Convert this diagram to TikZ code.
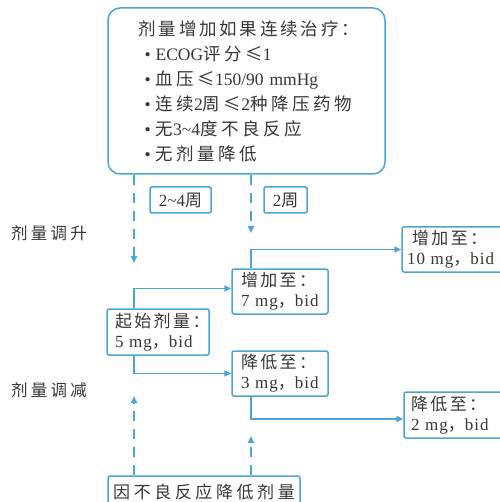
\documentclass[tikz,border=0pt]{standalone}
\usepackage{fontspec}
\setmainfont{Liberation Serif}
\newfontfamily\cjkfont{Noto Sans CJK SC}
\newcommand\zhs[2][14]{{\cjkfont\addfontfeatures{LetterSpace=#1}#2}}
\usetikzlibrary{arrows.meta}
\definecolor{lineblue}{RGB}{75,165,215}
\definecolor{txtgray}{RGB}{55,55,55}
\tikzset{
  boxstyle/.style={draw=lineblue, line width=1.5pt, rounded corners=2pt, text=txtgray,
    align=left, inner sep=0pt, font=\fontsize{17}{20}\selectfont\addfontfeatures{LetterSpace=6}},
  bigbox/.style={draw=lineblue, line width=1.5pt, rounded corners=12pt, text=txtgray,
    align=left, inner sep=0pt, font=\fontsize{17.5}{25}\selectfont},
  lblbox/.style={draw=lineblue, line width=1.5pt, rounded corners=1.5pt, text=txtgray,
    inner sep=0pt, font=\fontsize{17}{20}\selectfont},
  sidelbl/.style={text=txtgray, inner sep=0pt, font=\fontsize{16.5}{20}\selectfont},
  conn/.style={draw=lineblue, line width=1.5pt, -{Triangle[length=7pt,width=6pt]}},
  dashline/.style={draw=lineblue, line width=1.8pt, dash pattern=on 10pt off 8pt,
    -{Triangle[length=7pt,width=6pt]}}
}
\begin{document}
\begin{tikzpicture}[x=1pt,y=-1pt]
\useasboundingbox (0,0) rectangle (499,502);
\fill[white] (0,0) rectangle (499,502);

\node[bigbox, minimum width=277pt, minimum height=166pt, text width=216pt] (top) at (246.5,91)
{\zhs[16]{剂量增加如果连续治疗：}\\
\hspace*{6pt}•\hspace{5pt}ECOG\zhs[20]{评分≤}1\\
\hspace*{6pt}•\hspace{5pt}\zhs[20]{血压≤}150/90 mmHg\\
\hspace*{6pt}•\hspace{5pt}\zhs[20]{连续}2\zhs[20]{周≤}2\zhs[20]{种降压药物}\\
\hspace*{6pt}•\hspace{5pt}\zhs[20]{无}3\textasciitilde 4\zhs[20]{度不良反应}\\
\hspace*{6pt}•\hspace{5pt}\zhs[20]{无剂量降低}};

\node[lblbox, minimum width=61pt, minimum height=26pt] (w24) at (180.5,200) {2\textasciitilde 4\zhs{周}};
\node[lblbox, minimum width=43pt, minimum height=26pt] (w2) at (285.5,200) {2\zhs{周}};

\node[sidelbl] (up) at (49,233) {\zhs[20]{剂量调升}};
\node[sidelbl] (down) at (49,390) {\zhs[20]{剂量调减}};

\node[boxstyle, minimum width=102pt, minimum height=46pt, text width=86pt] (s5) at (158,332)
{\zhs{起始剂量：}\\5 mg\zhs{，}bid};
\node[boxstyle, minimum width=96pt, minimum height=45pt, text width=78pt] (s7) at (280,291.5)
{\zhs{增加至：}\\7 mg\zhs{，}bid};
\node[boxstyle, minimum width=96pt, minimum height=45pt, text width=78pt] (s3) at (280,373.5)
{\zhs{降低至：}\\3 mg\zhs{，}bid};
\node[boxstyle, minimum width=106pt, minimum height=45pt, text width=96pt] (s10) at (455,249.5)
{\hspace*{5pt}\zhs{增加至：}\\10 mg\zhs{，}bid};
\node[boxstyle, minimum width=106pt, minimum height=46pt, text width=92pt] (s2) at (457,415)
{\zhs{降低至：}\\2 mg\zhs{，}bid};
\node[boxstyle, minimum width=192pt, minimum height=32pt, align=center] (bot) at (204,492)
{\zhs[21]{因不良反应降低剂量}};

\coordinate (cx1) at (134,0);
\coordinate (cx2) at (251,0);
\coordinate (d1) at (134,263);
\coordinate (d2) at (251,233);
\coordinate (u1) at (134,396);
\coordinate (u2) at (251,436);

\draw[dashline] (top.south -| d1) -- (d1);
\draw[dashline] (top.south -| d2) -- (d2);
\draw[dashline] (bot.north -| u1) -- (u1);
\draw[dashline] (bot.north -| u2) -- (u2);

\draw[conn] (s5.north -| cx1) |- ([yshift=3pt]s7.west);
\draw[conn] (s5.south -| cx1) |- (s3.west);
\draw[conn] (s7.north -| cx2) |- (s10.west);
\draw[conn] (s3.south -| cx2) |- ([yshift=-4pt]s2.west);
\end{tikzpicture}
\end{document}
